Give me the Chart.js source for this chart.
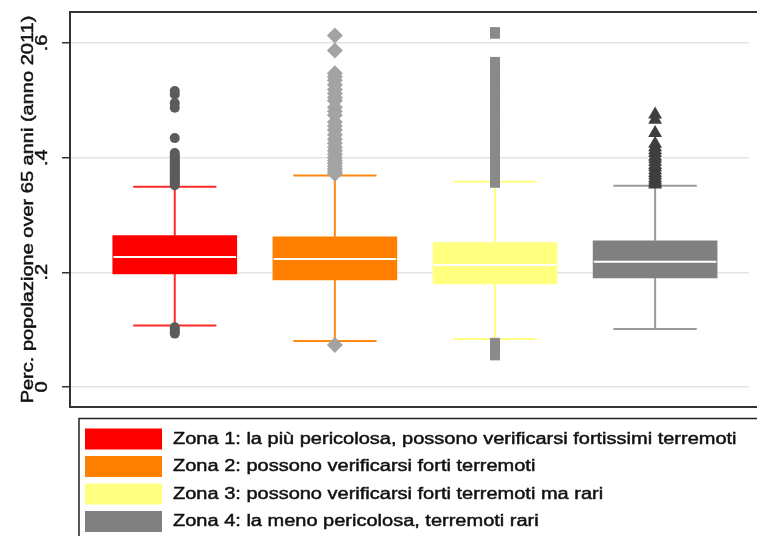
<!DOCTYPE html>
<html>
<head>
<meta charset="utf-8">
<script src="https://cdn.jsdelivr.net/npm/chart.js@4.4.1/dist/chart.umd.min.js"></script>
<style>
  html, body { margin: 0; padding: 0; background: #ffffff; }
  #wrap { width: 757px; height: 536px; position: relative; }
</style>
</head>
<body>
<div id="wrap"><canvas id="chart"></canvas></div>
<script>
// Share of population aged over 65 (2011), by seismic zone
const zoneNames = [
  'Zona 1: la più pericolosa, possono verificarsi fortissimi terremoti',
  'Zona 2: possono verificarsi forti terremoti',
  'Zona 3: possono verificarsi forti terremoti ma rari',
  'Zona 4: la meno pericolosa, terremoti rari'
];

// box statistics per zone
const q1 = [0.197, 0.1865, 0.1795, 0.190];
const medians = [0.2266, 0.223, 0.2127, 0.2184];
const q3 = [0.2638, 0.262, 0.2516, 0.255];
const whiskerLow = [0.107, 0.080, 0.0836, 0.101];
const whiskerHigh = [0.349, 0.369, 0.358, 0.351];

// outside values per zone
const outliersZone1 = [0.352, 0.355, 0.358, 0.361, 0.363, 0.366, 0.369, 0.372, 0.375, 0.377,
  0.380, 0.383, 0.386, 0.389, 0.392, 0.395, 0.398, 0.401, 0.404, 0.408, 0.434,
  0.487, 0.495, 0.510, 0.516, 0.104, 0.100, 0.096, 0.093];
const outliersZone2 = [0.613, 0.587, 0.547, 0.541, 0.535, 0.527, 0.519, 0.512, 0.505, 0.499,
  0.488, 0.481, 0.474, 0.462, 0.455, 0.448, 0.440, 0.432, 0.425, 0.418, 0.412, 0.406,
  0.400, 0.395, 0.390, 0.385, 0.380, 0.376, 0.372, 0.073];
const outliersZone3 = [0.619, 0.616, 0.567, 0.562, 0.553, 0.548, 0.541, 0.532, 0.527, 0.519,
  0.513, 0.504, 0.499, 0.490, 0.486, 0.477, 0.471, 0.464, 0.455, 0.450, 0.441, 0.436,
  0.428, 0.420, 0.415, 0.406, 0.401, 0.393, 0.387, 0.380, 0.373, 0.366, 0.361, 0.356,
  0.077, 0.071, 0.066, 0.061, 0.055];
const outliersZone4 = [0.475, 0.466, 0.443, 0.424, 0.418, 0.413, 0.408, 0.402, 0.398, 0.393,
  0.387, 0.383, 0.378, 0.373, 0.369, 0.364, 0.360, 0.356, 0.353];

const yTickValues = [0, 0.2, 0.4, 0.6];
const yTickLabels = ['0', '.2', '.4', '.6'];
const yAxisTitle = 'Perc. popolazione over 65 anni (anno 2011)';

// ---- styling ----
const zoneColors = ['#ff0000', '#ff8000', '#ffff80', '#808080'];
const whiskerColors = ['#ff2a2a', '#ff8a14', '#ffff80', '#9a9a9a'];
const outlierStyles = [
  { shape: 'circle', radius: 5, color: '#5c5c5c' },
  { shape: 'rectRot', radius: 8, color: '#a3a3a3' },
  { shape: 'rect', radius: 7, color: '#8a8a8a' },
  { shape: 'triangle', radius: 8, color: '#3f3f3f' }
];
const BOX_HALF = 0.383;   // half box width, in x units
const CAP_HALF = 0.26;    // half whisker cap width, in x units
const FONT_FAMILY = '"Liberation Sans", Arial, sans-serif';
const TEXT_STRETCH = 1.25; // wide lettering along the text direction
const TEXT_COLOR = '#111111';

const outlierSets = [outliersZone1, outliersZone2, outliersZone3, outliersZone4];
const positions = zoneNames.map((_, i) => i + 1);

const datasets = [];

// boxes (interquartile range) as floating bars
datasets.push({
  type: 'bar',
  data: positions.map((p, i) => ({ x: p, y: [q1[i], q3[i]] })),
  backgroundColor: zoneColors,
  borderWidth: 0,
  barThickness: 124,
  order: 3
});

// whiskers and caps
positions.forEach((p, i) => {
  datasets.push({
    type: 'line',
    data: [
      { x: p, y: q3[i] }, { x: p, y: whiskerHigh[i] }, { x: p, y: null },
      { x: p - CAP_HALF, y: whiskerHigh[i] }, { x: p + CAP_HALF, y: whiskerHigh[i] }, { x: p, y: null },
      { x: p, y: q1[i] }, { x: p, y: whiskerLow[i] }, { x: p, y: null },
      { x: p - CAP_HALF, y: whiskerLow[i] }, { x: p + CAP_HALF, y: whiskerLow[i] }
    ],
    borderColor: whiskerColors[i],
    borderWidth: 2,
    pointRadius: 0,
    spanGaps: false,
    fill: false,
    order: 4
  });
});

// median lines
const medianData = [];
positions.forEach((p, i) => {
  if (i > 0) medianData.push({ x: p, y: null });
  medianData.push({ x: p - BOX_HALF, y: medians[i] }, { x: p + BOX_HALF, y: medians[i] });
});
datasets.push({
  type: 'line',
  data: medianData,
  borderColor: '#ffffff',
  borderWidth: 2,
  pointRadius: 0,
  spanGaps: false,
  fill: false,
  order: 2
});

// outside values
positions.forEach((p, i) => {
  const st = outlierStyles[i];
  datasets.push({
    type: 'line',
    showLine: false,
    data: outlierSets[i].map(v => ({ x: p, y: v })),
    pointStyle: st.shape,
    pointRadius: st.radius,
    pointBackgroundColor: st.color,
    pointBorderColor: st.color,
    pointBorderWidth: 0,
    order: 1
  });
});

// text drawn with a horizontal stretch along its baseline
function drawWideText(ctx, text, x, y, rotation, align, size) {
  ctx.save();
  ctx.translate(x, y);
  ctx.rotate(rotation);
  ctx.scale(TEXT_STRETCH, 1);
  ctx.font = size + 'px ' + FONT_FAMILY;
  ctx.fillStyle = TEXT_COLOR;
  ctx.strokeStyle = TEXT_COLOR;
  ctx.lineWidth = 0.45;
  ctx.textAlign = align;
  ctx.textBaseline = 'alphabetic';
  ctx.fillText(text, 0, 0);
  ctx.strokeText(text, 0, 0);
  ctx.restore();
}

const decorations = {
  id: 'decorations',
  afterDraw(chart) {
    const ctx = chart.ctx;
    const area = chart.chartArea;
    const yScale = chart.scales.y;

    // plot region frame
    ctx.save();
    ctx.strokeStyle = '#333333';
    ctx.lineWidth = 2;
    ctx.beginPath();
    ctx.moveTo(chart.width + 2, area.top);
    ctx.lineTo(area.left, area.top);
    ctx.lineTo(area.left, area.bottom);
    ctx.lineTo(chart.width + 2, area.bottom);
    ctx.stroke();
    ctx.restore();

    // y tick labels, rotated
    yScale.ticks.forEach((t, i) => {
      const py = yScale.getPixelForValue(t.value);
      drawWideText(ctx, yTickLabels[i], 47, py, -Math.PI / 2, 'center', 16);
    });

    // y axis title
    drawWideText(ctx, yAxisTitle, 33, (area.top + area.bottom) / 2, -Math.PI / 2, 'center', 16);

    // legend
    const top = area.bottom + 11.5;
    ctx.save();
    ctx.strokeStyle = '#222222';
    ctx.lineWidth = 1.5;
    ctx.beginPath();
    ctx.moveTo(79, chart.height + 2);
    ctx.lineTo(79, top);
    ctx.lineTo(chart.width + 2, top);
    ctx.stroke();
    ctx.restore();

    zoneNames.forEach((name, i) => {
      const cy = top + 20.5 + i * 27.5;
      ctx.fillStyle = zoneColors[i];
      ctx.fillRect(85, cy - 10.5, 77, 21);
      drawWideText(ctx, name, 173, cy + 4.5, 0, 'left', 16);
    });
  }
};

new Chart(document.getElementById('chart'), {
  type: 'bar',
  data: { datasets },
  options: {
    responsive: true,
    maintainAspectRatio: false,
    animation: false,
    events: [],
    layout: { padding: { left: 0, top: 12, right: 0, bottom: 129 } },
    plugins: {
      legend: { display: false },
      tooltip: { enabled: false },
      title: { display: false }
    },
    scales: {
      x: {
        type: 'linear',
        display: false,
        offset: false,
        min: 0.3457,
        max: 4.5864
      },
      y: {
        type: 'linear',
        min: -0.035,
        max: 0.654,
        afterBuildTicks: scale => { scale.ticks = yTickValues.map(v => ({ value: v })); },
        afterFit: scale => { scale.width = 70; },
        ticks: { display: false },
        border: { display: false },
        grid: {
          color: '#e3e3e3',
          lineWidth: 1.5,
          drawTicks: true,
          tickLength: 8,
          tickColor: '#333333',
          tickWidth: 1.5
        }
      }
    }
  },
  plugins: [decorations]
});
</script>
</body>
</html>
